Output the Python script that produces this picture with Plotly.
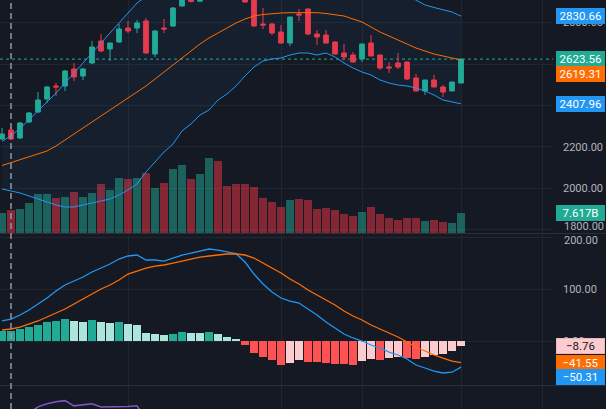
import plotly.graph_objects as go

# ---------------- data ----------------
opens = [2238.5, 2281.9, 2243.3, 2320.4, 2368.6, 2431.3, 2494.0, 2494.0, 2575.9, 2542.2,
         2604.8, 2710.9, 2672.3, 2706.0, 2773.5, 2773.5, 2807.3, 2648.2, 2773.5, 2783.2,
         2879.6, 2925.0, 2903.0, 2950.0, 2992.0, 2966.0, 2942.0, 2925.0, 2915.0, 2792.8,
         2792.8, 2754.2, 2701.2, 2841.0, 2865.1, 2744.6, 2739.8, 2706.0, 2653.0, 2643.4,
         2624.1, 2701.2, 2643.4, 2586.0, 2604.8, 2609.6, 2532.5, 2469.9, 2522.9, 2489.1,
         2469.9, 2508.4]
highs = [2291.5, 2296.3, 2320.4, 2368.6, 2465.0, 2494.0, 2508.4, 2571.1, 2604.8, 2580.7,
         2710.9, 2744.6, 2701.2, 2792.8, 2807.3, 2812.1, 2821.7, 2763.9, 2816.9, 2874.8,
         2925.0, 2938.0, 2958.0, 2998.0, 3005.0, 2975.0, 2950.0, 2935.0, 2925.0, 2869.9,
         2797.6, 2788.0, 2826.5, 2865.1, 2868.0, 2763.9, 2763.9, 2710.9, 2696.4, 2657.8,
         2698.0, 2739.8, 2645.0, 2609.6, 2653.0, 2612.0, 2551.8, 2522.9, 2547.0, 2498.8,
         2513.2, 2626.0]
lows = [2233.7, 2233.7, 2238.5, 2315.6, 2363.8, 2412.0, 2445.8, 2469.9, 2518.1, 2522.9,
        2600.0, 2657.8, 2614.5, 2701.2, 2749.4, 2749.4, 2648.2, 2633.7, 2749.4, 2778.3,
        2877.0, 2896.0, 2898.0, 2945.0, 2958.0, 2930.0, 2915.0, 2895.0, 2778.3, 2768.7,
        2739.8, 2698.0, 2686.8, 2807.3, 2739.8, 2691.6, 2698.0, 2646.0, 2619.3, 2607.0,
        2609.6, 2638.6, 2571.1, 2556.6, 2575.9, 2522.9, 2467.0, 2450.6, 2489.1, 2440.9,
        2469.9, 2508.4]
closes = [2262.6, 2238.5, 2315.6, 2363.8, 2426.5, 2489.1, 2489.1, 2566.3, 2537.3, 2575.9,
          2681.9, 2662.7, 2701.2, 2768.7, 2759.1, 2797.6, 2653.0, 2759.1, 2768.7, 2869.9,
          2913.3, 2901.0, 2950.0, 2990.0, 2965.0, 2940.0, 2920.0, 2899.0, 2783.2, 2788.0,
          2749.4, 2701.2, 2826.5, 2836.2, 2744.6, 2730.1, 2701.2, 2648.2, 2633.7, 2609.6,
          2696.4, 2638.6, 2580.7, 2581.0, 2585.5, 2527.7, 2469.9, 2522.9, 2489.1, 2465.0,
          2513.2, 2623.56]
volume_b = [7.62, 8.65, 9.03, 11.54, 14.74, 14.74, 13.34, 13.72, 15.51, 13.72,
            15.24, 18.78, 16.50, 20.96, 20.57, 20.96, 22.86, 17.26, 19.16, 24.50,
            26.02, 20.69, 22.36, 28.58, 27.58, 18.06, 18.55, 18.82, 17.53, 13.34,
            11.89, 9.91, 12.46, 12.95, 12.46, 9.30, 9.68, 8.92, 7.12, 6.67,
            7.89, 9.91, 7.12, 5.64, 4.84, 5.72, 5.72, 4.57, 4.84, 4.34,
            3.81, 7.617]
bb_upper = [2226.5, 2255.4, 2289.1, 2330.1, 2373.5, 2416.8, 2460.2, 2508.4, 2556.6, 2604.8,
            2653.0, 2701.2, 2749.4, 2797.6, 2845.8, 2894.0, 2925.0, 2945.0, 2965.0, 2985.0,
            3005.0, 3025.0, 3045.0, 3065.0, 3078.0, 3090.0, 3095.0, 3092.0, 3082.0, 3072.0,
            3065.0, 3060.0, 3055.0, 3050.0, 3048.0, 3047.0, 3045.0, 3043.0, 3040.0, 3033.0,
            3022.0, 3005.0, 2985.0, 2963.0, 2942.0, 2922.0, 2908.5, 2884.4, 2872.4, 2862.7,
            2850.6, 2830.66]
bb_basis = [2110.8, 2125.2, 2137.3, 2151.7, 2166.2, 2180.7, 2204.8, 2233.7, 2262.6, 2291.5,
            2320.4, 2349.4, 2378.3, 2407.2, 2436.1, 2465.0, 2494.0, 2527.7, 2561.4, 2595.2,
            2628.9, 2662.7, 2696.4, 2725.3, 2749.4, 2773.5, 2797.6, 2816.9, 2831.4, 2838.6,
            2843.4, 2845.8, 2847.3, 2848.2, 2848.2, 2847.3, 2843.4, 2838.6, 2831.4, 2816.9,
            2802.4, 2778.3, 2754.2, 2735.0, 2715.7, 2696.4, 2677.1, 2662.7, 2648.2, 2638.6,
            2628.9, 2619.31]
bb_lower = [1997.5, 1987.9, 1978.3, 1963.8, 1949.3, 1934.8, 1920.4, 1910.7, 1910.7, 1920.4,
            1930.0, 1939.7, 1949.3, 1968.6, 1992.7, 2021.6, 2079.4, 2127.6, 2175.8, 2214.4,
            2277.1, 2310.8, 2354.2, 2378.3, 2426.5, 2455.4, 2494.0, 2542.2, 2585.5, 2614.5,
            2624.1, 2628.9, 2643.4, 2653.0, 2653.0, 2643.4, 2653.0, 2633.7, 2604.8, 2580.7,
            2561.4, 2547.0, 2522.9, 2508.4, 2498.8, 2494.0, 2484.3, 2469.9, 2450.6, 2426.5,
            2416.8, 2407.96]
macd = [38.5, 42.3, 50.0, 59.6, 71.2, 82.7, 96.2, 107.7, 115.4, 123.1,
        132.7, 140.4, 148.1, 157.7, 163.5, 165.4, 155.8, 155.8, 153.8, 159.6,
        165.4, 169.2, 173.1, 176.9, 175.0, 171.2, 168.0, 151.9, 128.8, 109.6,
        94.2, 82.7, 76.9, 73.1, 61.5, 50.0, 36.5, 25.0, 13.5, 5.8,
        0.0, -7.7, -13.5, -21.2, -26.9, -34.6, -46.2, -51.9, -57.7, -61.5,
        -60.0, -50.31]
signal = [21.2, 23.1, 26.9, 32.7, 38.5, 46.2, 53.8, 61.5, 71.2, 80.8,
          90.4, 100.0, 107.7, 117.3, 128.8, 134.6, 140.4, 144.2, 146.2, 150.0,
          153.8, 157.7, 161.5, 163.5, 165.4, 167.3, 167.3, 165.4, 159.6, 150.0,
          140.4, 130.8, 119.2, 109.6, 98.1, 88.5, 78.8, 69.2, 57.7, 48.1,
          40.4, 30.8, 23.1, 15.4, 7.7, -1.9, -11.5, -19.2, -26.9, -32.7,
          -38.5, -41.55]
hist = [18.5, 19.2, 22.4, 27.6, 31.5, 36.5, 38.5, 41.7, 38.5, 36.5,
        41.0, 36.5, 34.6, 36.5, 33.5, 31.5, 16.0, 14.0, 10.9, 12.8,
        17.3, 16.0, 15.5, 17.3, 12.8, 7.7, 4.5, -7.7, -22.4, -30.8,
        -37.1, -46.2, -41.7, -37.0, -39.7, -40.2, -41.6, -43.5, -44.8, -45.3,
        -38.5, -35.2, -36.0, -33.3, -31.3, -33.3, -34.0, -30.8, -27.5, -25.6,
        -19.8, -8.76]
rsi = [60, 62, 64, 66, 72, 75, 77, 78, 73, 74,
       75, 72, 72, 72, 72.5, 73, 60, 63, 61, 66,
       69, 66, 68, 69, 65, 62, 60, 55, 46, 45,
       41, 38, 50, 52, 42, 40, 38, 36, 34, 33,
       45, 39, 35, 34, 36, 32, 29, 38, 36, 34,
       42, 55]
price_ticks = [1800, 2000, 2200, 2400, 2600, 2800]
macd_ticks = [0, 100, 200]

idx = list(range(len(closes)))

# ---------------- style ----------------
BG = '#151924'
GRID = '#22262f'
SEP = '#2a2e39'
GREEN = '#22ab94'
RED = '#f23645'
BLUE = '#2196f3'
ORANGE = '#ff6d00'
PURPLE = '#7e57c2'
TXT = '#b2b5be'
FONT = 'Roboto'

W, H = 606, 409
plot_right = 553 / W
price_dom = [1 - 233 / H, 1]
macd_dom = [1 - 385 / H, 1 - 234 / H]
rsi_dom = [0, 1 - 386 / H]

fig = go.Figure()

# volume (base axis of price pane, drawn beneath)
vol_colors = ['rgba(34,171,148,0.5)' if c >= o else 'rgba(242,54,69,0.5)'
              for o, c in zip(opens, closes)]
fig.add_trace(go.Bar(x=idx, y=volume_b, width=0.86, marker=dict(color=vol_colors, line=dict(width=0)),
                     xaxis='x', yaxis='y', hoverinfo='skip'))

# Bollinger bands
fig.add_trace(go.Scatter(x=idx, y=bb_upper, mode='lines', line=dict(color=BLUE, width=1),
                         xaxis='x', yaxis='y2', hoverinfo='skip'))
fig.add_trace(go.Scatter(x=idx, y=bb_lower, mode='lines', line=dict(color=BLUE, width=1),
                         fill='tonexty', fillcolor='rgba(33,150,243,0.05)',
                         xaxis='x', yaxis='y2', hoverinfo='skip'))
fig.add_trace(go.Scatter(x=idx, y=bb_basis, mode='lines', line=dict(color=ORANGE, width=1),
                         xaxis='x', yaxis='y2', hoverinfo='skip'))

# candles
fig.add_trace(go.Candlestick(x=idx, open=opens, high=highs, low=lows, close=closes,
                             increasing=dict(line=dict(color=GREEN, width=1), fillcolor=GREEN),
                             decreasing=dict(line=dict(color=RED, width=1), fillcolor=RED),
                             whiskerwidth=0, xaxis='x', yaxis='y2', hoverinfo='skip'))

# MACD histogram
hcols = []
for i, h in enumerate(hist):
    prev = hist[i - 1] if i > 0 else h - 1
    if h >= 0:
        hcols.append('#22ab94' if h > prev else '#ace5dc')
    else:
        hcols.append('#fccbcd' if h > prev else '#ff5252')
fig.add_trace(go.Bar(x=idx, y=hist, width=0.86, marker=dict(color=hcols, line=dict(width=0)),
                     xaxis='x2', yaxis='y3', hoverinfo='skip'))
fig.add_trace(go.Scatter(x=idx, y=macd, mode='lines', line=dict(color=BLUE, width=1.3),
                         xaxis='x2', yaxis='y3', hoverinfo='skip'))
fig.add_trace(go.Scatter(x=idx, y=signal, mode='lines', line=dict(color=ORANGE, width=1.3),
                         xaxis='x2', yaxis='y3', hoverinfo='skip'))

# bottom oscillator
fig.add_trace(go.Scatter(x=idx, y=rsi, mode='lines', line=dict(color=PURPLE, width=1.5),
                         xaxis='x3', yaxis='y4', hoverinfo='skip'))

xr = [-0.222, 61.22]
vgrid = [14, 31, 40, 51, 60]
xcommon = dict(range=xr, domain=[0, plot_right], tickvals=vgrid, showticklabels=False,
               showgrid=True, gridcolor=GRID, gridwidth=1, zeroline=False, showline=False,
               ticks='', fixedrange=True)
ycommon = dict(side='right', showgrid=True, gridcolor=GRID, gridwidth=1, zeroline=False,
               showline=False, ticks='', ticklabelstandoff=9,
               tickfont=dict(family=FONT, size=11, color=TXT), fixedrange=True)

# labels fully covered by value tags are left blank; the two labels at the pane
# boundary are drawn as annotations so they do not collide
hidden_price = {2400, 2600, 1800}
price_text = ['' if v in hidden_price else f'{v:.2f}' for v in price_ticks]
macd_text = ['' if v == 200 else f'{v:.2f}' for v in macd_ticks]

fig.update_layout(
    width=W, height=H,
    margin=dict(l=0, r=0, t=0, b=0),
    paper_bgcolor=BG, plot_bgcolor=BG,
    showlegend=False, bargap=0,
    boxgap=0.25,
    xaxis=dict(**xcommon, anchor='y', rangeslider=dict(visible=False)),
    xaxis2=dict(**xcommon, anchor='y3'),
    xaxis3=dict(**xcommon, anchor='y4'),
    yaxis=dict(domain=price_dom, range=[0, 88.8], visible=False, fixedrange=True),
    yaxis2=dict(**ycommon, overlaying='y', anchor='x', range=[1785.4, 2908.5],
                tickvals=price_ticks, ticktext=price_text),
    yaxis3=dict(**ycommon, domain=macd_dom, anchor='x2', range=[-84.6, 205.8],
                tickvals=macd_ticks, ticktext=macd_text),
    yaxis4=dict(domain=rsi_dom, anchor='x3', range=[70, 92], showgrid=False,
                showticklabels=False, zeroline=False, fixedrange=True),
)

shapes = [
    # pane separators
    dict(type='line', xref='paper', yref='paper', x0=0, x1=1, y0=1 - 233.5 / H, y1=1 - 233.5 / H,
         line=dict(color=SEP, width=1)),
    dict(type='line', xref='paper', yref='paper', x0=0, x1=1, y0=1 - 385.5 / H, y1=1 - 385.5 / H,
         line=dict(color=SEP, width=1)),
    # current price line
    dict(type='line', xref='paper', yref='y2', x0=0, x1=plot_right, y0=closes[-1], y1=closes[-1],
         line=dict(color=GREEN, width=1, dash='dot'), layer='below'),
    # dashed vertical marker
    dict(type='line', xref='x', yref='paper', x0=1, x1=1, y0=0, y1=1,
         line=dict(color='#9598a1', width=1.5, dash='6px,4px')),
]
fig.update_layout(shapes=shapes)

lab_x = 556 / W
tick_x = 562 / W


def tag(text, y, yref, bg, fg='#ffffff', yshift=0, border=None):
    return dict(xref='paper', x=lab_x, xanchor='left', yref=yref, y=y, yanchor='middle',
                text=text, showarrow=False, bgcolor=bg, bordercolor=border or bg, borderwidth=1,
                borderpad=1, width=45, height=12, align='center', yshift=yshift,
                font=dict(family=FONT, size=11.5, color=fg))


def edge_tick(text, y, yref, yshift):
    return dict(xref='paper', x=tick_x, xanchor='left', yref=yref, y=y, yanchor='middle',
                text=text, showarrow=False, yshift=yshift,
                font=dict(family=FONT, size=11, color=TXT))


fig.update_layout(annotations=[
    edge_tick(f'{price_ticks[0]:.2f}', price_ticks[0], 'y2', 3),
    edge_tick(f'{macd_ticks[-1]:.2f}', macd_ticks[-1], 'y3', -3),
    tag(f'{bb_upper[-1]:.2f}', bb_upper[-1], 'y2', BLUE),
    tag(f'{closes[-1]:.2f}', closes[-1], 'y2', GREEN),
    tag(f'{bb_basis[-1]:.2f}', bb_basis[-1], 'y2', ORANGE, yshift=-14),
    tag(f'{bb_lower[-1]:.2f}', bb_lower[-1], 'y2', BLUE),
    tag(f'{volume_b[-1]:.3f}B', volume_b[-1], 'y', GREEN),
    tag(f'\u2212{abs(hist[-1]):.2f}', hist[-1], 'y3', '#fccbcd', fg='#131722', border='#e8b8ba'),
    tag(f'\u2212{abs(signal[-1]):.2f}', signal[-1], 'y3', ORANGE),
    tag(f'\u2212{abs(macd[-1]):.2f}', macd[-1], 'y3', BLUE, yshift=-10),
])

fig.write_html('out.html')
